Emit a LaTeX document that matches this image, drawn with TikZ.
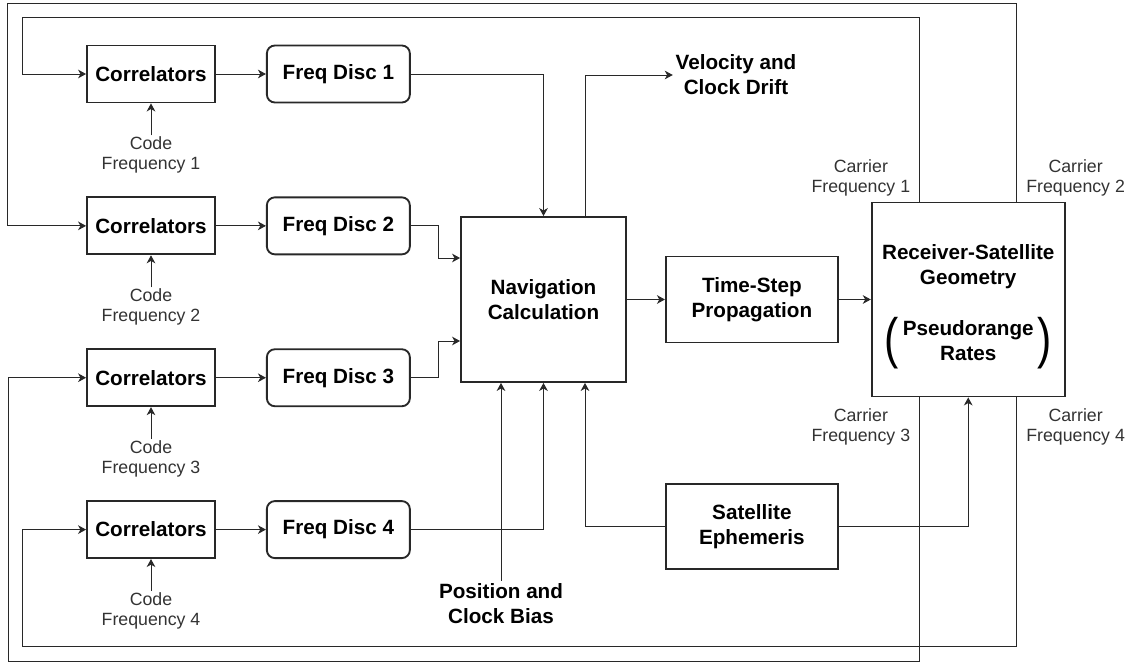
\documentclass[tikz,border=0pt]{standalone}
\usepackage{fontspec}
\usepackage{graphicx}
\setmainfont{Liberation Sans}
\usetikzlibrary{arrows.meta,positioning,calc}
\definecolor{linecol}{RGB}{40,40,40}
\definecolor{textcol}{RGB}{51,51,51}
\newcommand\bigparen[1]{\raisebox{-7pt}{\scalebox{1}[1.3]{\fontseries{m}\fontsize{32}{32}\selectfont#1}}}

\begin{document}
\begin{tikzpicture}[
   x=0.75pt, y=-0.75pt,
   >={Stealth[length=6pt,width=6.5pt,inset=1.8pt]},
   blk/.style={draw=linecol, line width=1.4pt, align=center, inner sep=2pt,
               font=\fontsize{15.5}{18.75}\selectfont\bfseries},
   corr/.style={blk, minimum width=96pt, minimum height=42.75pt},
   disc/.style={blk, rounded corners=6pt, minimum width=107.25pt, minimum height=42.75pt},
   sig/.style={->, line width=0.75pt, draw=linecol},
   lbl/.style={align=center, inner sep=1pt, text=textcol,
               font=\fontsize{13.3}{15}\selectfont},
   outtxt/.style={align=center, inner sep=2pt,
               font=\fontsize{15.5}{18.75}\selectfont\bfseries},
]
\useasboundingbox (0,0) rectangle (1133,664);
% tracking channels
\node[corr] (corr1) at (151,74) {Correlators};
\node[corr, below=69.75pt of corr1] (corr2) {Correlators};
\node[corr, below=69.75pt of corr2] (corr3) {Correlators};
\node[corr, below=69.75pt of corr3] (corr4) {Correlators};
\node[disc, right=37.5pt of corr1] (fd1) {Freq Disc 1};
\node[disc, right=37.5pt of corr2] (fd2) {Freq Disc 2};
\node[disc, right=37.5pt of corr3] (fd3) {Freq Disc 3};
\node[disc, right=37.5pt of corr4] (fd4) {Freq Disc 4};
\node[lbl, below=24pt of corr1] (cf1) {Code\\Frequency 1};
\node[lbl, below=24pt of corr2] (cf2) {Code\\Frequency 2};
\node[lbl, below=24pt of corr3] (cf3) {Code\\Frequency 3};
\node[lbl, below=24pt of corr4] (cf4) {Code\\Frequency 4};
% navigation chain
\node[blk, minimum width=123.75pt, minimum height=123.75pt] (nav) at (543.5,299.5)
  {Navigation\\Calculation};
\node[blk, minimum width=129pt, minimum height=64.5pt, right=28.5pt of nav] (ts)
  {Time-Step\\Propagation};
\node[blk, minimum width=144.75pt, minimum height=145.5pt, right=24pt of ts] (rsg)
  {\rule{0pt}{22pt}Receiver-Satellite\\Geometry\\[20pt]
   \bigparen{(}\hspace{3pt}\begin{tabular}{@{}c@{}}Pseudorange\\Rates\end{tabular}\hspace{3pt}\bigparen{)}};
\node[blk, minimum width=129pt, minimum height=63.75pt, below=105pt of ts] (eph)
  {Satellite\\Ephemeris};
\node[outtxt] (vel) at (736,75) {Velocity and\\Clock Drift};
\node[outtxt] (pcb) at (501,604) {Position and\\Clock Bias};
% edges
\foreach \i in {1,...,4} {
  \draw[sig] (corr\i) -- (fd\i);
  \draw[sig] (cf\i) -- (corr\i);
}
\draw[sig] (fd1.east) -| (nav.north);
\draw[sig] (fd2.east) -- ++(28,0) |- ($(nav.west)+(0,-41.5)$);
\draw[sig] (fd3.east) -- ++(28,0) |- ($(nav.west)+(0,41.5)$);
\draw[sig] (fd4.east) -| (nav.south);
\draw[sig] (nav) -- (ts);
\draw[sig] (ts) -- (rsg);
\draw[sig] ($(nav.north)+(41.5,0)$) |- (vel.west);
\draw[sig] (pcb) -- (pcb |- nav.south);
\draw[sig] (eph.west) -| ($(nav.south)+(41.5,0)$);
\draw[sig] (eph.east) -| (rsg.south);
% carrier frequency feedback
\coordinate (c1) at ($(rsg.north)+(-48.5,0)$);
\coordinate (c2) at ($(rsg.north)+(48.5,0)$);
\coordinate (c3) at ($(rsg.south)+(-48.5,0)$);
\coordinate (c4) at ($(rsg.south)+(48.5,0)$);
\draw[sig] (c1) |- (22,17) |- (corr1.west);
\draw[sig] (c2) |- (7,3) |- (corr2.west);
\draw[sig] (c3) |- (8,661) |- (corr3.west);
\draw[sig] (c4) |- (22,646) |- (corr4.west);
\node[lbl, above left=3pt and 6pt of c1] (cq1) {Carrier\\Frequency 1};
\node[lbl, above right=3pt and 6pt of c2] (cq2) {Carrier\\Frequency 2};
\node[lbl, below left=7.5pt and 6pt of c3] (cq3) {Carrier\\Frequency 3};
\node[lbl, below right=7.5pt and 6pt of c4] (cq4) {Carrier\\Frequency 4};
\end{tikzpicture}
\end{document}
